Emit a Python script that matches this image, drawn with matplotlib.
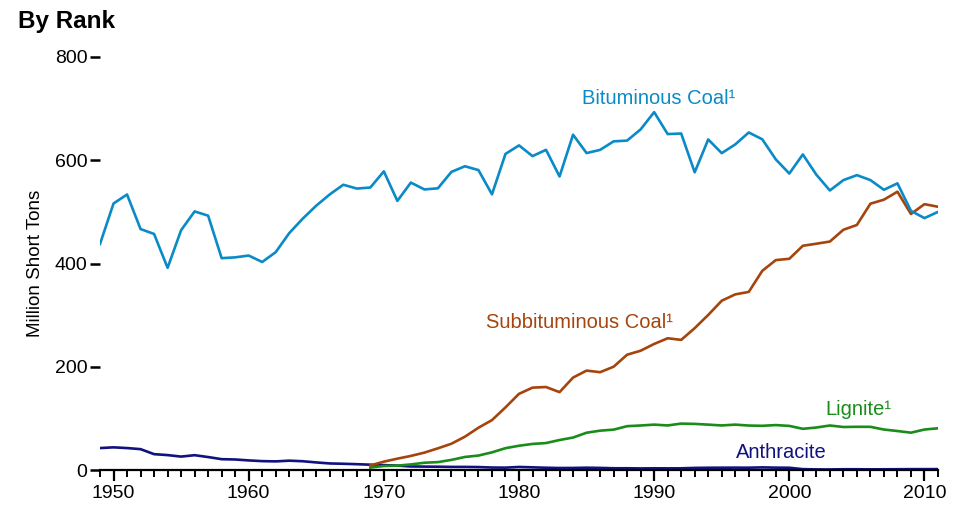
import numpy as np
import matplotlib.pyplot as plt
from matplotlib.ticker import MultipleLocator

plt.rcParams["font.family"] = ["Liberation Sans", "DejaVu Sans"]

# Добыча угля по видам, млн коротких тонн
years = np.arange(1949, 2012)
years_late = np.arange(1969, 2012)

bituminous = [
    437.9, 516.3, 533.7, 466.8, 457.3, 391.7, 464.6, 500.9, 492.7, 410.4,
    412.0, 415.5, 403.0, 422.1, 458.9, 487.0, 512.1, 533.9, 552.6, 545.2,
    547.2, 578.5, 521.3, 556.8, 543.5, 545.7, 577.5, 588.4, 581.0, 534.0,
    612.3, 628.8, 608.0, 620.2, 568.6, 649.5, 613.9, 620.1, 636.6, 638.1,
    659.8, 693.2, 650.7, 651.8, 576.7, 640.3, 613.8, 630.7, 653.8, 640.6,
    601.7, 574.3, 611.3, 572.1, 541.5, 561.5, 571.2, 561.6, 542.8, 555.3,
    502.0, 488.0, 500.0,
]
subbituminous = [
    9.0, 16.4, 22.2, 27.5, 33.9, 42.2, 51.1, 64.8, 82.1, 96.8,
    121.5, 147.7, 159.7, 160.9, 151.0, 179.2, 192.7, 189.6, 200.2, 223.5,
    231.2, 244.3, 255.3, 252.2, 274.9, 300.5, 328.0, 340.3, 345.1, 385.9,
    406.7, 409.2, 434.4, 438.4, 442.6, 465.4, 474.7, 515.9, 523.7, 539.1,
    496.0, 515.0, 510.0,
]
lignite = [
    5.0, 8.0, 8.7, 11.0, 14.3, 15.5, 19.8, 25.5, 28.2, 34.4,
    42.5, 47.2, 50.7, 52.4, 58.3, 63.1, 72.4, 76.4, 78.4, 85.1,
    86.4, 88.1, 86.5, 90.1, 89.5, 88.1, 86.5, 88.1, 86.3, 85.8,
    87.2, 85.6, 80.0, 82.5, 86.4, 83.5, 83.9, 83.8, 78.6, 75.7,
    72.5, 78.6, 81.0,
]
anthracite = [
    42.7, 44.1, 42.7, 40.6, 30.9, 29.1, 26.2, 28.9, 25.3, 21.2,
    20.6, 18.8, 17.4, 16.9, 18.3, 17.2, 14.9, 12.9, 12.3, 11.5,
    10.5, 9.7, 8.7, 7.1, 6.8, 6.6, 6.2, 6.2, 5.9, 5.0,
    4.8, 6.1, 5.4, 4.6, 4.1, 4.2, 4.7, 4.3, 3.6, 3.6,
    3.3, 3.5, 3.4, 3.5, 4.3, 4.6, 4.7, 4.8, 4.7, 5.3,
    4.8, 4.6, 1.9, 1.4, 1.3, 1.7, 1.7, 1.5, 1.6, 1.7,
    1.9, 1.9, 2.0,
]

c_bit = "#0a8ac6"
c_sub = "#a5440c"
c_lig = "#1a8c1a"
c_ant = "#12127f"

fig = plt.figure(figsize=(9.71, 5.11), dpi=100)
ax = fig.add_axes([0.103, 0.080, 0.863, 0.8085])

lw = 1.9
ax.plot(years, anthracite, color=c_ant, lw=lw)
ax.plot(years_late, lignite, color=c_lig, lw=lw)
ax.plot(years_late, subbituminous, color=c_sub, lw=lw)
ax.plot(years, bituminous, color=c_bit, lw=lw)

ax.set_xlim(1949, 2011)
ax.set_ylim(0, 800)
for s in ["top", "right", "left"]:
    ax.spines[s].set_visible(False)
ax.spines["bottom"].set_linewidth(1.6)

ax.xaxis.set_major_locator(MultipleLocator(10))
ax.xaxis.set_minor_locator(MultipleLocator(1))
ax.yaxis.set_major_locator(MultipleLocator(200))
ax.tick_params(axis="x", which="major", length=8, width=1.6, labelsize=14, pad=3)
ax.tick_params(axis="x", which="minor", length=5, width=1.4)
ax.tick_params(axis="y", which="major", length=7, width=1.8, labelsize=14, pad=2)

ax.set_ylabel("Million Short Tons", fontsize=13.5, labelpad=8)

kw = dict(fontsize=14.5, ha="center", va="center")
ax.text(1990.3, 720, "Bituminous Coal¹", color=c_bit, **kw)
ax.text(1984.5, 285, "Subbituminous Coal¹", color=c_sub, **kw)
ax.text(2005.1, 118, "Lignite¹", color=c_lig, **kw)
ax.text(1999.4, 35, "Anthracite", color=c_ant, **kw)

fig.text(0.019, 0.958, "By Rank", fontsize=17.5, fontweight="bold", ha="left", va="center")

plt.savefig("out.png", dpi=100)
